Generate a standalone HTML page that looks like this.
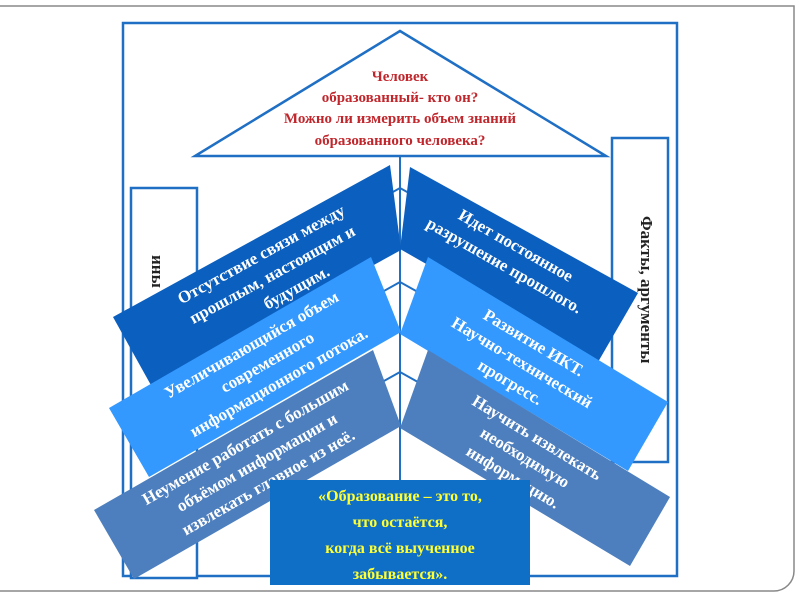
<!DOCTYPE html>
<html><head><meta charset="utf-8"><style>
html,body{margin:0;padding:0;background:#fff;}
svg{display:block}
text{font-family:"Liberation Serif","Noto Serif CJK SC",serif;font-weight:bold;}
</style></head><body>
<svg width="800" height="600" viewBox="0 0 800 600" xmlns="http://www.w3.org/2000/svg">
<path d="M0 6 H794 V571 A20 20 0 0 1 774 591 H0" fill="none" stroke="#888" stroke-width="1.5"/>
<rect x="123" y="23" width="554" height="553" fill="none" stroke="#1f6fc5" stroke-width="2.5"/>
<polygon points="400,31 195,156 606,156" fill="#fff" stroke="#1f6fc5" stroke-width="2.5"/>
<line x1="400" y1="156" x2="400" y2="578" stroke="#1f6fc5" stroke-width="2"/>
<g fill="#c0272d" font-size="15" text-anchor="middle">
<text x="400" y="81">Человек</text>
<text x="400" y="102">образованный- кто он?</text>
<text x="400" y="123">Можно ли измерить объем знаний</text>
<text x="400" y="145">образованного человека?</text>
</g>
<rect x="131" y="188" width="66" height="390" fill="#fff" stroke="#1f6fc5" stroke-width="2.5"/>
<text transform="translate(152,255) rotate(90)" font-size="17" fill="#222">ины</text>
<rect x="612" y="138" width="56" height="324" fill="#fff" stroke="#1f6fc5" stroke-width="2.5"/>
<text transform="translate(641,216) rotate(90)" font-size="17" fill="#222">Факты, аргументы</text>
<g stroke="#1f6fc5" stroke-width="2" fill="none">
<polyline points="375,202 400,188 425,202"/>
<polyline points="375,296 400,282 425,296"/>
<polyline points="375,386 400,372 425,386"/>
</g>
<g fill="#fff" font-size="17" text-anchor="middle">
<polygon points="113,317 390,165 401,250 152,387" fill="#0b5fbf"/>
<g transform="translate(113,317) rotate(-28.8)">
<text x="160" y="22">Отсутствие связи между</text>
<text x="160" y="45">прошлым, настоящим и</text>
<text x="175" y="68">будущим.</text></g>
<polygon points="410,167 638,293 598,362 400,249" fill="#0b5fbf"/>
<g transform="translate(404,159) rotate(29.8)">
<text x="140" y="25">Идет постоянное</text>
<text x="140" y="48">разрушение прошлого.</text></g>
<polygon points="109,408 371,257 401,332 149,477" fill="#3399ff"/>
<g transform="translate(109,408) rotate(-30)">
<text x="155" y="22">Увеличивающийся объем</text>
<text x="160" y="45">современного</text>
<text x="160" y="68">информационного потока.</text></g>
<polygon points="428,257 668,402 628,471 400,334" fill="#3399ff"/>
<g transform="translate(402,242) rotate(31)">
<text x="165" y="24">Развитие ИКТ.</text>
<text x="165" y="47">Научно-технический</text>
<text x="165" y="70">прогресс.</text></g>
<polygon points="94,510 373,350 401,426 134,579" fill="#4d7fbe"/>
<g transform="translate(94,510) rotate(-29.8)">
<text x="165" y="22">Неумение работать с большим</text>
<text x="165" y="45">объёмом информации и</text>
<text x="165" y="68">извлекать главное из неё.</text></g>
<polygon points="428,350 670,497 630,566 400,428" fill="#4d7fbe"/>
<g transform="translate(397,331) rotate(31.3)">
<text x="175" y="24">Научить извлекать</text>
<text x="175" y="47">необходимую</text>
<text x="175" y="70">информацию.</text></g>
</g>
<rect x="270" y="480" width="260" height="105" fill="#0f6fc6"/>
<g fill="#ffff33" font-size="16" text-anchor="middle">
<text x="400" y="501">«Образование – это то,</text>
<text x="400" y="527">что остаётся,</text>
<text x="400" y="553">когда всё выученное</text>
<text x="400" y="579">забывается».</text>
</g>
</svg>
</body></html>
